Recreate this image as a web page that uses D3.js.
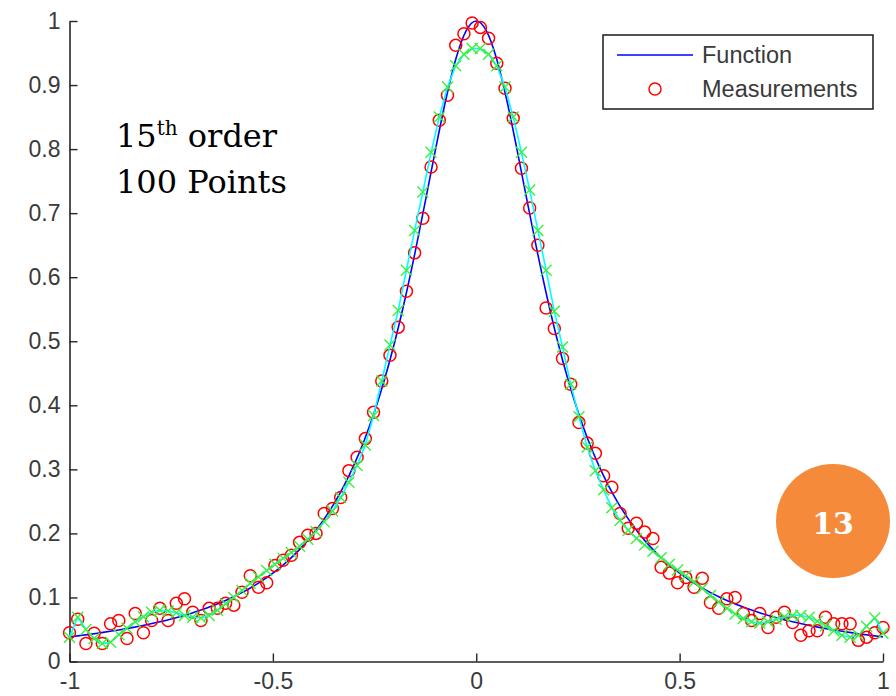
<html>
<head>
<meta charset="UTF-8">
<title>index.html</title>
<script src="https://d3js.org/d3.v7.min.js"></script>
<style>
body { margin: 0; background: white; }
</style>
</head>
<body>
<svg width="896" height="696"></svg>
<script>
// x positions of the 100 measurements
var xMeas = [-1, -0.9798, -0.9596, -0.9394, -0.9192, -0.8990, -0.8788, -0.8586, -0.8384, -0.8182,
  -0.7980, -0.7778, -0.7576, -0.7374, -0.7172, -0.6970, -0.6768, -0.6566, -0.6364, -0.6162,
  -0.5960, -0.5758, -0.5556, -0.5354, -0.5152, -0.4949, -0.4747, -0.4545, -0.4343, -0.4141,
  -0.3939, -0.3737, -0.3535, -0.3333, -0.3131, -0.2929, -0.2727, -0.2525, -0.2323, -0.2121,
  -0.1919, -0.1717, -0.1515, -0.1313, -0.1111, -0.0909, -0.0707, -0.0505, -0.0303, -0.0101,
  0.0101, 0.0303, 0.0505, 0.0707, 0.0909, 0.1111, 0.1313, 0.1515, 0.1717, 0.1919,
  0.2121, 0.2323, 0.2525, 0.2727, 0.2929, 0.3131, 0.3333, 0.3535, 0.3737, 0.3939,
  0.4141, 0.4343, 0.4545, 0.4747, 0.4949, 0.5152, 0.5354, 0.5556, 0.5758, 0.5960,
  0.6162, 0.6364, 0.6566, 0.6768, 0.6970, 0.7172, 0.7374, 0.7576, 0.7778, 0.7980,
  0.8182, 0.8384, 0.8586, 0.8788, 0.8990, 0.9192, 0.9394, 0.9596, 0.9798, 1];

// red circles
var yMeas = [0.045, 0.066, 0.028, 0.044, 0.028, 0.059, 0.064, 0.036, 0.075, 0.045,
  0.064, 0.083, 0.064, 0.091, 0.098, 0.077, 0.064, 0.083, 0.083, 0.091,
  0.088, 0.108, 0.134, 0.116, 0.123, 0.150, 0.158, 0.166, 0.186, 0.197,
  0.200, 0.231, 0.239, 0.256, 0.298, 0.319, 0.348, 0.389, 0.438, 0.478,
  0.522, 0.578, 0.638, 0.692, 0.772, 0.845, 0.884, 0.962, 0.980, 0.997,
  0.990, 0.973, 0.934, 0.895, 0.848, 0.770, 0.708, 0.650, 0.552, 0.520,
  0.473, 0.433, 0.373, 0.341, 0.325, 0.290, 0.272, 0.231, 0.208, 0.216,
  0.202, 0.192, 0.147, 0.138, 0.123, 0.131, 0.116, 0.130, 0.092, 0.083,
  0.098, 0.100, 0.075, 0.064, 0.075, 0.053, 0.069, 0.077, 0.061, 0.041,
  0.048, 0.048, 0.069, 0.059, 0.059, 0.059, 0.033, 0.038, 0.045, 0.053];

// 15th order fit (green x + cyan line)
var yFit = [0.038, 0.069, 0.050, 0.036, 0.028, 0.030, 0.042, 0.052, 0.062, 0.070,
  0.077, 0.080, 0.079, 0.076, 0.072, 0.069, 0.068, 0.072, 0.080, 0.090,
  0.100, 0.111, 0.122, 0.132, 0.142, 0.152, 0.161, 0.170, 0.180, 0.191,
  0.203, 0.218, 0.235, 0.256, 0.280, 0.306, 0.338, 0.384, 0.438, 0.494,
  0.548, 0.611, 0.673, 0.733, 0.795, 0.850, 0.897, 0.930, 0.948, 0.957,
  0.957, 0.948, 0.930, 0.897, 0.850, 0.795, 0.736, 0.673, 0.611, 0.547,
  0.491, 0.433, 0.382, 0.335, 0.298, 0.268, 0.240, 0.220, 0.205, 0.192,
  0.182, 0.172, 0.162, 0.152, 0.143, 0.134, 0.124, 0.114, 0.103, 0.093,
  0.083, 0.074, 0.067, 0.062, 0.060, 0.062, 0.066, 0.070, 0.072, 0.072,
  0.069, 0.063, 0.056, 0.048, 0.041, 0.038, 0.041, 0.055, 0.068, 0.044];

// blue "Function" curve
var xFunc = [-1, -0.975, -0.95, -0.925, -0.9, -0.875, -0.85, -0.825, -0.8, -0.775,
  -0.75, -0.725, -0.7, -0.675, -0.65, -0.625, -0.6, -0.575, -0.55, -0.525,
  -0.5, -0.475, -0.45, -0.425, -0.4, -0.375, -0.35, -0.325, -0.3, -0.275,
  -0.25, -0.225, -0.2, -0.175, -0.15, -0.125, -0.1, -0.075, -0.05, -0.025,
  0,
  0.025, 0.05, 0.075, 0.1, 0.125, 0.15, 0.175, 0.2, 0.225, 0.25,
  0.275, 0.3, 0.325, 0.35, 0.375, 0.4, 0.425, 0.45, 0.475, 0.5,
  0.525, 0.55, 0.575, 0.6, 0.625, 0.65, 0.675, 0.7, 0.725, 0.75,
  0.775, 0.8, 0.825, 0.85, 0.875, 0.9, 0.925, 0.95, 0.975, 1];
var yFunc = [0.0385, 0.0404, 0.0424, 0.0447, 0.0471, 0.0497, 0.0525, 0.0555, 0.0588, 0.0624,
  0.0664, 0.0707, 0.0755, 0.0807, 0.0865, 0.0929, 0.1, 0.1079, 0.1168, 0.1267,
  0.1379, 0.1506, 0.1649, 0.1813, 0.2, 0.2215, 0.2462, 0.2747, 0.3077, 0.3459,
  0.3902, 0.4414, 0.5, 0.5664, 0.64, 0.7191, 0.8, 0.8767, 0.9412, 0.9846,
  1,
  0.9846, 0.9412, 0.8767, 0.8, 0.7191, 0.64, 0.5664, 0.5, 0.4414, 0.3902,
  0.3459, 0.3077, 0.2747, 0.2462, 0.2215, 0.2, 0.1813, 0.1649, 0.1506, 0.1379,
  0.1267, 0.1168, 0.1079, 0.1, 0.0929, 0.0865, 0.0807, 0.0755, 0.0707, 0.0664,
  0.0624, 0.0588, 0.0555, 0.0525, 0.0497, 0.0471, 0.0447, 0.0424, 0.0404, 0.0385];

var xTickValues = [-1, -0.5, 0, 0.5, 1];
var xTickLabels = ["-1", "-0.5", "0", "0.5", "1"];
var yTickValues = [0, 0.1, 0.2, 0.3, 0.4, 0.5, 0.6, 0.7, 0.8, 0.9, 1];
var yTickLabels = ["0", "0.1", "0.2", "0.3", "0.4", "0.5", "0.6", "0.7", "0.8", "0.9", "1"];

var legendLabels = ["Function", "Measurements"];

var svg = d3.select("svg");

var xScale = d3.scaleLinear().domain([-1, 1]).range([69.5, 883]);
var yScale = d3.scaleLinear().domain([0, 1]).range([661.5, 21]);

var axisColor = "#262626";

// axes, matlab style ticks pointing inwards
var y_axis = d3.axisLeft(yScale).tickValues(yTickValues)
  .tickFormat(function(d, i) { return yTickLabels[i]; })
  .tickSizeInner(-8).tickSizeOuter(0).tickPadding(9);
svg.append("g")
  .attr("transform", "translate(" + xScale(-1) + ",0)")
  .call(y_axis);

var x_axis = d3.axisBottom(xScale).tickValues(xTickValues)
  .tickFormat(function(d, i) { return xTickLabels[i]; })
  .tickSizeInner(-8).tickSizeOuter(0).tickPadding(11);
svg.append("g")
  .attr("transform", "translate(0," + yScale(0) + ")")
  .call(x_axis);

svg.selectAll(".domain").style("stroke", axisColor).style("stroke-width", 1.6);
svg.selectAll(".tick line").style("stroke", axisColor).style("stroke-width", 1.4);
svg.selectAll(".tick text")
  .style("font-family", '"Liberation Sans", Arial, sans-serif')
  .style("font-size", "23px")
  .style("fill", "#3a3a3a");

// function line (blue)
var funcLine = d3.line()
  .x(function(d, i) { return xScale(xFunc[i]); })
  .y(function(d) { return yScale(d); })
  .curve(d3.curveMonotoneX);
svg.append("path")
  .attr("d", funcLine(yFunc))
  .style("fill", "none")
  .style("stroke", "#0000ff")
  .style("stroke-width", 1.6);

// measurements (red circles)
svg.append("g").selectAll("circle").data(yMeas)
  .enter().append("circle")
  .attr("cx", function(d, i) { return xScale(xMeas[i]); })
  .attr("cy", function(d) { return yScale(d); })
  .attr("r", 6)
  .style("fill", "none")
  .style("stroke", "#ff0000")
  .style("stroke-width", 1.5);

// fit line (cyan)
var fitLine = d3.line()
  .x(function(d, i) { return xScale(xMeas[i]); })
  .y(function(d) { return yScale(d); });
svg.append("path")
  .attr("d", fitLine(yFit))
  .style("fill", "none")
  .style("stroke", "#00ffff")
  .style("stroke-width", 1.6);

// fit points (green x)
var s = 5.5;
svg.append("g").selectAll("path").data(yFit)
  .enter().append("path")
  .attr("d", function(d, i) {
    var cx = xScale(xMeas[i]), cy = yScale(d);
    return "M" + (cx - s) + "," + (cy - s) + "L" + (cx + s) + "," + (cy + s) +
           "M" + (cx - s) + "," + (cy + s) + "L" + (cx + s) + "," + (cy - s);
  })
  .style("stroke", "#3cf03c")
  .style("stroke-width", 1.4)
  .style("fill", "none");

// legend
var lg = svg.append("g").attr("transform", "translate(603,35)");
lg.append("rect")
  .attr("width", 270).attr("height", 74)
  .style("fill", "white")
  .style("stroke", "#1a1a1a")
  .style("stroke-width", 1.5);
lg.append("line")
  .attr("x1", 14).attr("x2", 90).attr("y1", 20).attr("y2", 20)
  .style("stroke", "#0000ff").style("stroke-width", 1.6);
lg.append("circle")
  .attr("cx", 52).attr("cy", 54).attr("r", 6)
  .style("fill", "none").style("stroke", "#ff0000").style("stroke-width", 1.5);
lg.selectAll("text.lab").data(legendLabels)
  .enter().append("text")
  .attr("class", "lab")
  .attr("x", 99)
  .attr("y", function(d, i) { return 20 + i * 34; })
  .attr("dy", "0.35em")
  .text(function(d) { return d; })
  .style("font-family", '"Liberation Sans", Arial, sans-serif')
  .style("font-size", "23.5px")
  .style("fill", "#3a3a3a");

// annotation text
var note = svg.append("g")
  .style("font-family", '"DejaVu Serif", serif')
  .style("font-size", "32px")
  .style("fill", "#000");
var t1 = note.append("text").attr("x", 116).attr("y", 147);
t1.append("tspan").text("15");
t1.append("tspan").text("th").attr("dy", -12).style("font-size", "20px");
t1.append("tspan").text(" order").attr("dy", 12);
note.append("text").attr("x", 116).attr("y", 193).text("100 Points");

// slide number badge
svg.append("circle")
  .attr("cx", 833).attr("cy", 521).attr("r", 57)
  .style("fill", "#f58a3b");
svg.append("text")
  .attr("x", 833).attr("y", 534)
  .attr("text-anchor", "middle")
  .text("13")
  .style("font-family", '"DejaVu Serif", serif')
  .style("font-weight", "bold")
  .style("font-size", "30px")
  .style("fill", "white");
</script>
</body>
</html>
